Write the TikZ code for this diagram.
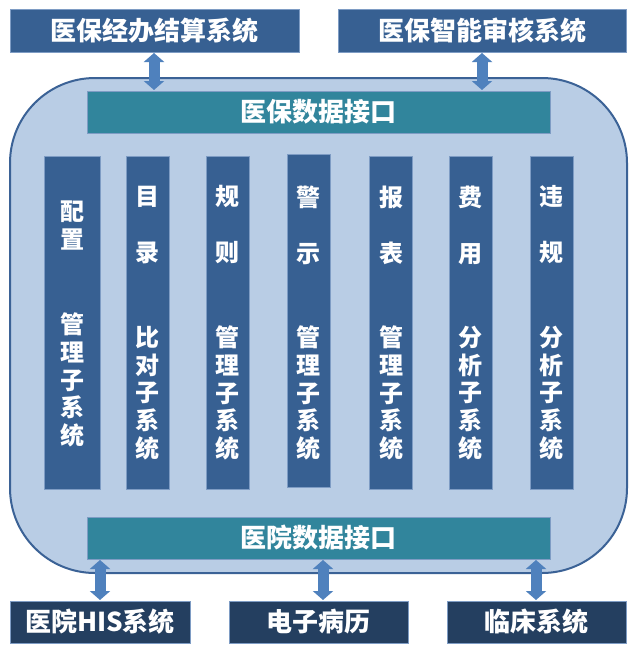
\documentclass[tikz,border=0pt]{standalone}
\usepackage{fontspec}
\setmainfont{Noto Sans CJK SC}
\usetikzlibrary{arrows.meta}
\definecolor{boxblue}{HTML}{376092}
\definecolor{navyblue}{HTML}{243F60}
\definecolor{tealbar}{HTML}{31859C}
\definecolor{panelfill}{HTML}{B9CDE5}
\definecolor{panelline}{HTML}{3B6296}
\definecolor{arrowblue}{HTML}{4F81BD}
\definecolor{edgeline}{HTML}{7E9CC4}
\begin{document}
\begin{tikzpicture}[x=1pt,y=-1pt,
  every node/.style={inner sep=0pt, outer sep=0pt},
  panelbox/.style={rectangle, rounded corners=85pt, fill=panelfill, draw=panelline, line width=2pt},
  sysbox/.style={rectangle, fill=boxblue, draw=edgeline, line width=0.6pt, text=white, font=\bfseries\fontsize{26}{30}\selectfont},
  extbox/.style={rectangle, fill=navyblue, draw=edgeline, line width=0.6pt, text=white, font=\bfseries\fontsize{26}{30}\selectfont},
  ifbar/.style={rectangle, fill=tealbar, draw=edgeline, line width=0.4pt, text=white, font=\bfseries\fontsize{26}{30}\selectfont, minimum width=463pt, minimum height=42pt},
  colbox/.style={rectangle, fill=boxblue, draw=edgeline, line width=0.6pt, minimum height=333pt, minimum width=43pt},
  coltop/.style={text=white, align=center, font=\bfseries\fontsize{24}{56}\selectfont},
  colbot/.style={text=white, align=center, font=\bfseries\fontsize{24}{27.8}\selectfont},
  biarrow/.style={draw=arrowblue, line width=11pt, {Triangle[length=9pt 0 0,width=20pt 0 0]}-{Triangle[length=9pt 0 0,width=20pt 0 0]}, shorten <=1pt, shorten >=1pt}
]
\useasboundingbox (0,0) rectangle (639,648);
\fill[white] (0,0) rectangle (639,648);

% panel
\node[panelbox, minimum width=617pt, minimum height=495pt] (panel) at (318.5,325.5) {};

% top systems
\node[sysbox, minimum width=289pt, minimum height=43pt] (top1) at (154.5,30.5) {医保经办结算系统};
\node[sysbox, minimum width=288pt, minimum height=43pt] (top2) at (482,30.5) {医保智能审核系统};

% interface bars
\node[ifbar] (ibar) at (318.5,112) {医保数据接口};
\node[ifbar] (hbar) at (318.5,538) {医院数据接口};

% bottom systems
\node[extbox, minimum width=180pt, minimum height=42pt] (bot1) at (100,622) {医院HIS系统};
\node[extbox, minimum width=179pt, minimum height=42pt] (bot2) at (318.5,622) {电子病历};
\node[extbox, minimum width=179pt, minimum height=42pt] (bot3) at (536.5,622) {临床系统};

% columns
\node[colbox, minimum width=56pt] (c1) at (72,322.5) {};
\node[colbox] (c2) at (147.5,322.5) {};
\node[colbox] (c3) at (227.5,322.5) {};
\node[colbox] (c4) at (308.5,321) {};
\node[colbox] (c5) at (391,323) {};
\node[colbox] (c6) at (470.5,323) {};
\node[colbox] (c7) at (551.5,323) {};

% column texts
\node[colbot, font=\bfseries\fontsize{24}{28}\selectfont] (t1a) at (c1.center |- 0,225) {配\\置};
\node[colbot] (t1b) at (c1.center |- 0,380) {管\\理\\子\\系\\统};
\node[coltop] (t2a) at (c2.center |- 0,225) {目\\录};
\node[colbot] (t2b) at (c2.center |- 0,393) {比\\对\\子\\系\\统};
\node[coltop] (t3a) at (c3.center |- 0,225) {规\\则};
\node[colbot] (t3b) at (c3.center |- 0,393) {管\\理\\子\\系\\统};
\node[coltop] (t4a) at (c4.center |- 0,225) {警\\示};
\node[colbot] (t4b) at (c4.center |- 0,393) {管\\理\\子\\系\\统};
\node[coltop] (t5a) at (c5.center |- 0,225) {报\\表};
\node[colbot] (t5b) at (c5.center |- 0,393) {管\\理\\子\\系\\统};
\node[coltop] (t6a) at (c6.center |- 0,225) {费\\用};
\node[colbot] (t6b) at (c6.center |- 0,393) {分\\析\\子\\系\\统};
\node[coltop] (t7a) at (c7.center |- 0,225) {违\\规};
\node[colbot] (t7b) at (c7.center |- 0,393) {分\\析\\子\\系\\统};

% arrows
\coordinate (a1) at (154,0);
\coordinate (a2) at (482,0);
\coordinate (a3) at (100,0);
\coordinate (a4) at (323,0);
\coordinate (a5) at (536,0);
\draw[biarrow] (top1.south -| a1) -- (ibar.north -| a1);
\draw[biarrow] (top2.south -| a2) -- (ibar.north -| a2);
\draw[biarrow] (hbar.south -| a3) -- (bot1.north -| a3);
\draw[biarrow] (hbar.south -| a4) -- (bot2.north -| a4);
\draw[biarrow] (hbar.south -| a5) -- (bot3.north -| a5);
\end{tikzpicture}
\end{document}
